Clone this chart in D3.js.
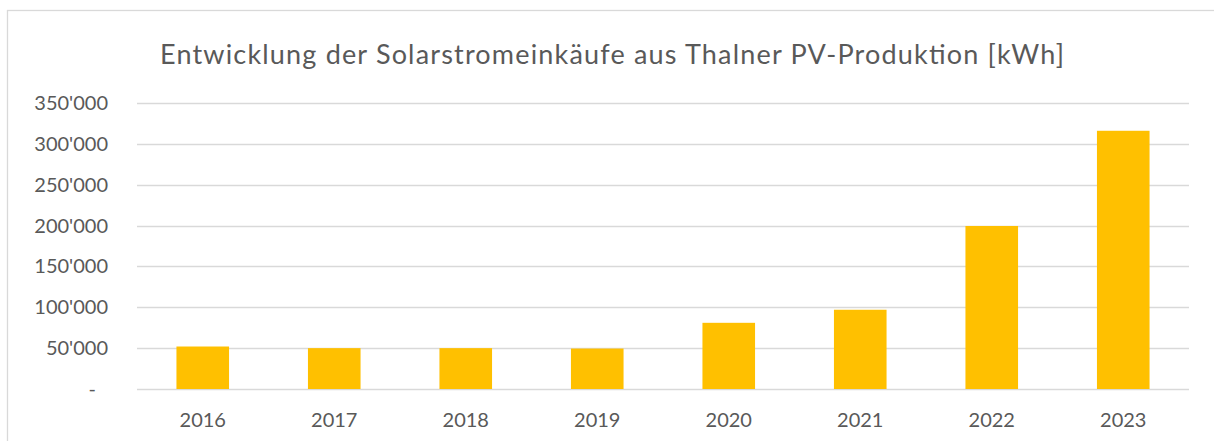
<!DOCTYPE html>
<html>
<head>
<meta charset="utf-8">
<script src="https://cdn.jsdelivr.net/npm/d3@7"></script>
<style type="text/css">
  body{
    background: white;
    margin: 0px;
    font-family: 'Lato', 'Open Sans', sans-serif;
  }
  .grid line{
    stroke: #d9d9d9;
    stroke-width: 1.3px;
  }
  .tickText{
    fill: #595959;
    font-size: 20px;
  }
  .title{
    fill: #595959;
    font-size: 27px;
  }
</style>
</head>
<body>
<svg id="chart" width="1214" height="441"></svg>
<script>

var years = ["2016", "2017", "2018", "2019", "2020", "2021", "2022", "2023"];
var purchases = [52000, 50000, 50000, 49500, 81000, 97000, 199500, 316000];
var yTicks = [0, 50000, 100000, 150000, 200000, 250000, 300000, 350000];
var titleText = "Entwicklung der Solarstromeinkäufe aus Thalner PV-Produktion [kWh]";

var margin = {top: 103, right: 25, bottom: 52, left: 137},
    width = 1214 - margin.left - margin.right,
    height = 441 - margin.top - margin.bottom;

var svg = d3.select("#chart");

// chart frame, runs off the right and bottom edge like in the screenshot
svg.append("rect")
    .attr("x", 7.5)
    .attr("y", 10.5)
    .attr("width", 1230)
    .attr("height", 460)
    .attr("fill", "none")
    .attr("stroke", "#d9d9d9")
    .attr("stroke-width", 1.3);

var g = svg.append("g")
    .attr("transform", "translate(" + margin.left + "," + margin.top + ")");

var x = d3.scaleBand().domain(years).range([0, width]).paddingInner(0.6).paddingOuter(0.3);
var y = d3.scaleLinear().domain([0, 350000]).range([height, 0]);

var fmt = function(v) {
  if (v === 0) return "-";
  return d3.format(",")(v).replace(/,/g, "'");
};

// gridlines
g.append("g")
    .attr("class", "grid")
    .selectAll("line")
    .data(yTicks)
    .enter().append("line")
    .attr("x1", 0)
    .attr("x2", width)
    .attr("y1", function(d) { return Math.round(y(d)) + 0.5; })
    .attr("y2", function(d) { return Math.round(y(d)) + 0.5; });

// y labels
g.selectAll(".yLabel")
    .data(yTicks)
    .enter().append("text")
    .attr("class", "tickText")
    .attr("x", function(d) { return d === 0 ? -41 : -29; })
    .attr("y", function(d) { return y(d); })
    .attr("dy", "0.35em")
    .attr("text-anchor", "end")
    .text(fmt);

// bars
g.selectAll(".bar")
    .data(purchases)
    .enter().append("rect")
    .attr("class", "bar")
    .attr("x", function(d, i) { return x(years[i]); })
    .attr("width", x.bandwidth())
    .attr("y", function(d) { return y(d); })
    .attr("height", function(d) { return height - y(d); })
    .attr("fill", "#ffc000");

// x labels
g.selectAll(".xLabel")
    .data(years)
    .enter().append("text")
    .attr("class", "tickText")
    .attr("x", function(d) { return x(d) + x.bandwidth() / 2; })
    .attr("y", height + 38)
    .attr("text-anchor", "middle")
    .text(function(d) { return d; });

// title
svg.append("text")
    .attr("class", "title")
    .attr("x", 612)
    .attr("y", 64)
    .attr("text-anchor", "middle")
    .attr("textLength", 904)
    .attr("lengthAdjust", "spacing")
    .text(titleText);

</script>
</body>
</html>
